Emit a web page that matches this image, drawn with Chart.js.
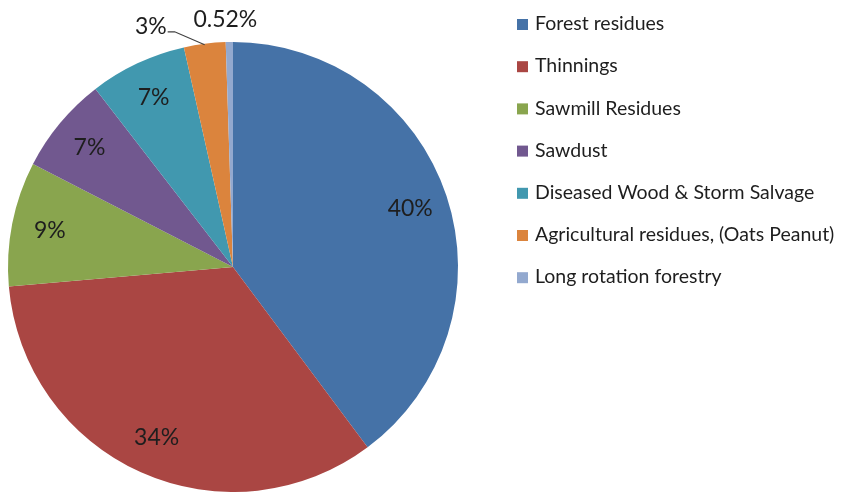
<!DOCTYPE html>
<html><head><meta charset="utf-8">
<script src="https://cdn.jsdelivr.net/npm/chart.js@4/dist/chart.umd.min.js"></script>
<style>html,body{margin:0;padding:0;background:#fff}#wrap{width:845px;height:492px}</style>
</head><body><div id="wrap"><canvas id="c" width="845" height="492"></canvas></div>
<script>
const categories = ["Forest residues","Thinnings","Sawmill Residues","Sawdust","Diseased Wood & Storm Salvage","Agricultural residues, (Oats Peanut)","Long rotation forestry"];
const values = [40, 34, 9, 7, 7, 3, 0.52];
const valueLabels = ["40%","34%","9%","7%","7%","3%","0.52%"];
const colors = ["#4572A7","#AA4643","#89A54E","#71588F","#4198AF","#DB843D","#93A9CF"];
const FONT = "Lato, 'Open Sans', sans-serif";

const labelPlugin = {
  id: 'labels',
  afterDatasetsDraw(chart) {
    const ctx = chart.ctx;
    const meta = chart.getDatasetMeta(0);
    ctx.save();
    ctx.fillStyle = '#1e1e1e';
    ctx.font = '23px ' + FONT;
    ctx.textAlign = 'center';
    ctx.textBaseline = 'middle';
    meta.data.forEach((arc, i) => {
      const mid = (arc.startAngle + arc.endAngle) / 2;
      const r = arc.outerRadius;
      if (i < 5) {
        const rr = r * 0.83;
        ctx.fillText(valueLabels[i], arc.x + Math.cos(mid) * rr, arc.y + Math.sin(mid) * rr);
      } else if (i === 5) {
        const ex = arc.x + Math.cos(mid) * r, ey = arc.y + Math.sin(mid) * r;
        ctx.strokeStyle = '#404040'; ctx.lineWidth = 1.2;
        ctx.beginPath(); ctx.moveTo(ex, ey + 1); ctx.lineTo(ex - 30, ey - 12); ctx.lineTo(ex - 37, ey - 12); ctx.stroke();
        ctx.textAlign = 'right';
        ctx.fillText(valueLabels[i], ex - 38, ey - 17);
      } else {
        const ex = arc.x + Math.cos(mid) * r, ey = arc.y + Math.sin(mid) * r;
        ctx.textAlign = 'center';
        ctx.fillText(valueLabels[i], ex - 4, ey - 22);
      }
    });
    // legend
    ctx.font = '19.5px ' + FONT;
    ctx.textAlign = 'left';
    ctx.textBaseline = 'middle';
    categories.forEach((c, i) => {
      const y = 24 + i * 42.2;
      ctx.fillStyle = colors[i];
      ctx.fillRect(517, y - 5, 11, 11);
      ctx.fillStyle = '#1e1e1e';
      ctx.fillText(c, 535, y);
    });
    ctx.restore();
  }
};

new Chart(document.getElementById('c'), {
  type: 'pie',
  data: { labels: categories, datasets: [{ data: values, backgroundColor: colors, borderWidth: 0 }] },
  options: {
    responsive: false, animation: false,
    layout: { padding: { left: 8, top: 42, right: 387, bottom: 0 } },
    plugins: { legend: { display: false }, tooltip: { enabled: false } }
  },
  plugins: [labelPlugin]
});
</script></body></html>
